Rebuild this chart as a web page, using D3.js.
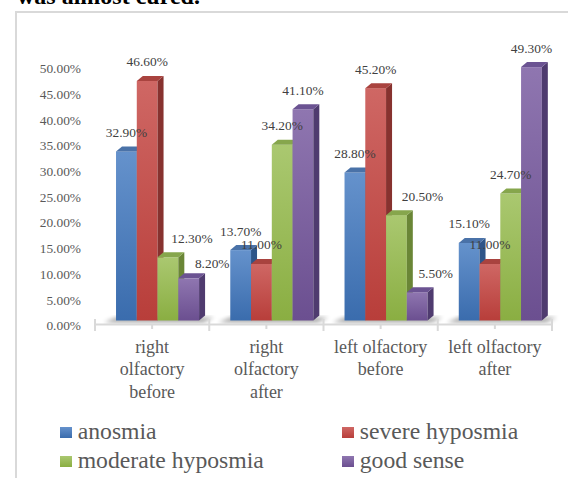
<!DOCTYPE html>
<html>
<head>
<meta charset="utf-8">
<script src="https://cdn.jsdelivr.net/npm/d3@7"></script>
<style>
body { margin: 0; background: #fff; }
svg { display: block; font-family: "Liberation Serif", "Times New Roman", serif; }
</style>
</head>
<body>
<svg id="chart" width="568" height="478"></svg>
<script>
// data
var categories = ["right olfactory before", "right olfactory after", "left olfactory before", "left olfactory after"];
var seriesNames = ["anosmia", "severe hyposmia", "moderate hyposmia", "good sense"];
var anosmia = [32.9, 13.7, 28.8, 15.1];
var severeHyposmia = [46.6, 11.0, 45.2, 11.0];
var moderateHyposmia = [12.3, 34.2, 20.5, 24.7];
var goodSense = [8.2, 41.1, 5.5, 49.3];
var yTicks = [0, 5, 10, 15, 20, 25, 30, 35, 40, 45, 50];

var seriesValues = [anosmia, severeHyposmia, moderateHyposmia, goodSense];

// front top / front bottom / side / cap
var COLORS = [
    { top: "#6592cc", bot: "#3a6cad", side: "#2e5588", cap: "#4a72a8" },
    { top: "#cf6764", bot: "#b83e3a", side: "#87322f", cap: "#a9433f" },
    { top: "#aac870", bot: "#8aae42", side: "#6a8636", cap: "#86a64c" },
    { top: "#8f76b0", bot: "#6b4f90", side: "#4f3b6f", cap: "#6b5392" }
];

// a few labels were moved aside in the original
var labelNudge = { "0-2": [24, 0], "0-3": [23.5, 4.5], "2-2": [26, 0], "2-3": [18.5, 0] };

var DX = 6, DY = -5;
var svg = d3.select("#chart");

// gradients for the faces
var defs = svg.append("defs");
COLORS.forEach(function(c, i) {
    var g = defs.append("linearGradient")
        .attr("id", "front" + i)
        .attr("x1", 0).attr("y1", 0).attr("x2", 0).attr("y2", 1);
    g.append("stop").attr("offset", "0%").attr("stop-color", c.top);
    g.append("stop").attr("offset", "100%").attr("stop-color", c.bot);
});
defs.append("filter").attr("id", "blur")
    .attr("x", "-50%").attr("y", "-50%").attr("width", "200%").attr("height", "200%")
    .append("feGaussianBlur").attr("stdDeviation", 2);

// heading left over from the page above
svg.append("text")
    .attr("x", 17).attr("y", 4)
    .style("font-size", "24px")
    .style("font-weight", "bold")
    .style("fill", "#000")
    .text("was almost cured.");

// chart frame
svg.append("rect")
    .attr("x", 16).attr("y", 12)
    .attr("width", 600).attr("height", 500)
    .style("fill", "none")
    .style("stroke", "#d9d9d9")
    .style("stroke-width", 2);

var x0 = d3.scaleBand()
    .domain(categories)
    .range([95, 552]);

var bw = x0.bandwidth();
var x1 = d3.scaleBand()
    .domain(d3.range(seriesNames.length))
    .range([bw * 0.184, bw * 0.911]);

// label scale; bars sit a bit behind the front plane
var y = d3.scaleLinear()
    .domain([0, 50])
    .range([325.5, 68.5]);
var BACK = -5;
var base = y(0) + BACK;

// y axis labels
var yAxis = d3.axisLeft(y)
    .tickValues(yTicks)
    .tickFormat(function(d) { return d.toFixed(2) + "%"; })
    .tickSize(0)
    .tickPadding(0);

var yg = svg.append("g")
    .attr("transform", "translate(81,0)")
    .call(yAxis);
yg.select(".domain").remove();
yg.selectAll("text")
    .attr("dy", "0.32em")
    .style("font-family", "'Liberation Serif', 'Times New Roman', serif")
    .style("font-size", "13.4px")
    .style("fill", "#595959");

// floor shadows
svg.append("g").selectAll("polygon")
    .data(categories)
    .enter().append("polygon")
    .attr("points", function(d) {
        var gx = x0(d) + x1(0);
        var ge = x0(d) + x1(seriesNames.length - 1) + x1.bandwidth() + DX;
        return [[gx - 12, base + 2], [gx, base - 3], [ge + 9, base - 3], [ge - 2, base + 2]].join(" ");
    })
    .style("fill", "#000")
    .style("opacity", 0.35)
    .attr("filter", "url(#blur)");

// x axis line and ticks
svg.append("line")
    .attr("x1", 95).attr("x2", 552)
    .attr("y1", 324.5).attr("y2", 324.5)
    .style("stroke", "#d9d9d9")
    .style("stroke-width", 2);

var bounds = categories.map(function(d) { return x0(d); }).concat([x0.range()[1]]);
svg.append("g").selectAll("line")
    .data(bounds)
    .enter().append("line")
    .attr("x1", function(d) { return d; })
    .attr("x2", function(d) { return d; })
    .attr("y1", 319).attr("y2", 331)
    .style("stroke", "#d9d9d9")
    .style("stroke-width", 2);

svg.append("g").selectAll("line")
    .data(categories)
    .enter().append("line")
    .attr("x1", function(d) { return x0(d) + bw / 2; })
    .attr("x2", function(d) { return x0(d) + bw / 2; })
    .attr("y1", 324).attr("y2", 329)
    .style("stroke", "#d9d9d9")
    .style("stroke-width", 2);

// bars, drawn left to right so each covers its neighbour's side
var barData = [];
categories.forEach(function(cat, ci) {
    seriesValues.forEach(function(vals, si) {
        barData.push({ cat: cat, ci: ci, si: si, val: vals[ci] });
    });
});

var bars = svg.append("g").selectAll("g")
    .data(barData)
    .enter().append("g");

function bx(d) { return x0(d.cat) + x1(d.si); }
function btop(d) { return y(d.val) + BACK; }
var w = x1.bandwidth();

bars.append("rect")
    .attr("x", bx)
    .attr("y", btop)
    .attr("width", w)
    .attr("height", function(d) { return base - btop(d); })
    .style("fill", function(d) { return "url(#front" + d.si + ")"; });

bars.append("polygon")
    .attr("points", function(d) {
        var x = bx(d) + w, t = btop(d);
        return [[x, t], [x + DX, t + DY], [x + DX, base + DY], [x, base]].join(" ");
    })
    .style("fill", function(d) { return COLORS[d.si].side; });

bars.append("polygon")
    .attr("points", function(d) {
        var x = bx(d), t = btop(d);
        return [[x, t], [x + DX, t + DY], [x + w + DX, t + DY], [x + w, t]].join(" ");
    })
    .style("fill", function(d) { return COLORS[d.si].cap; });

// value labels
svg.append("g").selectAll("text")
    .data(barData)
    .enter().append("text")
    .attr("x", function(d) {
        var n = labelNudge[d.ci + "-" + d.si];
        return bx(d) + w / 2 + (n ? n[0] : 0);
    })
    .attr("y", function(d) {
        var n = labelNudge[d.ci + "-" + d.si];
        return btop(d) - 14.5 + (n ? n[1] : 0);
    })
    .attr("text-anchor", "middle")
    .style("font-size", "13.4px")
    .style("fill", "#404040")
    .text(function(d) { return d.val.toFixed(2) + "%"; });

// category labels, wrapped
function wrap(sel, width) {
    sel.each(function() {
        var text = d3.select(this);
        var words = text.text().split(/\s+/);
        var xx = text.attr("x");
        var line = [], lineNo = 0;
        text.text(null);
        var tspan = text.append("tspan").attr("x", xx).attr("dy", 0);
        words.forEach(function(word) {
            line.push(word);
            tspan.text(line.join(" "));
            if (tspan.node().getComputedTextLength() > width && line.length > 1) {
                line.pop();
                tspan.text(line.join(" "));
                line = [word];
                lineNo++;
                tspan = text.append("tspan").attr("x", xx).attr("dy", "22.8px").text(word);
            }
        });
    });
}

svg.append("g").selectAll("text")
    .data(categories)
    .enter().append("text")
    .attr("x", function(d) { return x0(d) + bw / 2; })
    .attr("y", 352.5)
    .attr("text-anchor", "middle")
    .style("font-size", "18px")
    .style("fill", "#595959")
    .text(function(d) { return d; })
    .call(wrap, 100);

// legend
var legend = svg.append("g").selectAll("g")
    .data(seriesNames)
    .enter().append("g")
    .attr("transform", function(d, i) {
        return "translate(" + [60, 342][i % 2] + "," + [439, 468][Math.floor(i / 2)] + ")";
    });

legend.append("rect")
    .attr("x", 0).attr("y", -12)
    .attr("width", 12).attr("height", 11)
    .style("fill", function(d, i) { return "url(#front" + i + ")"; });

legend.append("text")
    .attr("x", 17.7)
    .attr("y", 0)
    .style("font-size", "23.7px")
    .style("fill", "#595959")
    .text(function(d) { return d; });
</script>
</body>
</html>
